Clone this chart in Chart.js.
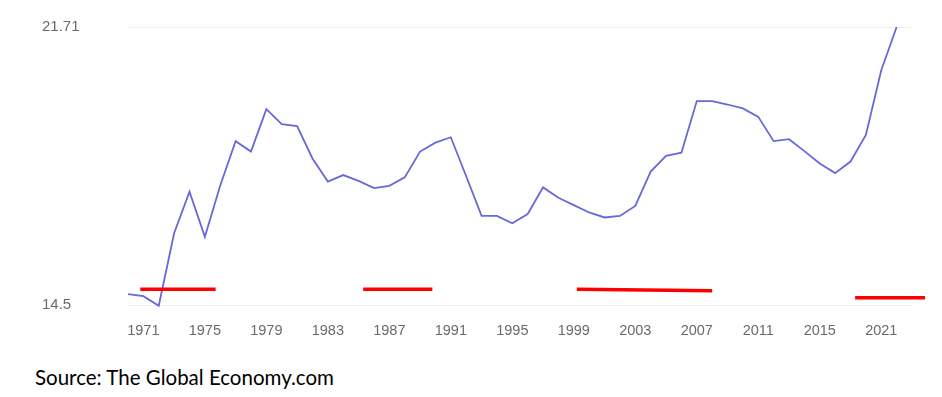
<!DOCTYPE html>
<html>
<head>
<meta charset="utf-8">
<script src="https://cdn.jsdelivr.net/npm/chart.js@4"></script>
<style>
    body { margin: 0; background: #fff; }
    #wrap { position: relative; width: 942px; height: 397px; }
    #chartBox { position: absolute; left: 0; top: 0; width: 942px; height: 345px; }
    #source {
        position: absolute; left: 35px; top: 365px;
        font-family: 'Lato', 'Open Sans', sans-serif; font-size: 20.5px; color: #000;
        line-height: 24px; white-space: nowrap;
    }
</style>
</head>
<body>
<div id="wrap">
    <div id="chartBox"><canvas id="chart"></canvas></div>
    <div id="source">Source: The Global Economy.com</div>
</div>
<script>
// 年份（横轴）
const years = [
    1970, 1971, 1972, 1973, 1974, 1975, 1976, 1977, 1978, 1979,
    1980, 1981, 1982, 1983, 1984, 1985, 1986, 1987, 1988, 1989,
    1990, 1991, 1992, 1993, 1994, 1995, 1996, 1997, 1998, 1999,
    2000, 2001, 2002, 2003, 2004, 2005, 2006, 2007, 2008, 2009,
    2010, 2011, 2012, 2013, 2014, 2015, 2016, 2017, 2018, 2019,
    2020
];

// 数值
const values = [
    14.78, 14.73, 14.48, 16.36, 17.44, 16.27, 17.60, 18.75, 18.48, 19.58,
    19.19, 19.14, 18.30, 17.70, 17.87, 17.72, 17.53, 17.59, 17.81, 18.48,
    18.71, 18.85, 17.84, 16.81, 16.81, 16.62, 16.86, 17.55, 17.28, 17.09,
    16.90, 16.77, 16.81, 17.07, 17.96, 18.37, 18.45, 19.79, 19.79, 19.70,
    19.60, 19.38, 18.75, 18.80, 18.49, 18.17, 17.92, 18.22, 18.91, 20.59,
    21.71
];

// 横轴刻度位置与文字（原图在 2019 位置标为 2021）
const tickYears = [1971, 1975, 1979, 1983, 1987, 1991, 1995, 1999, 2003, 2007, 2011, 2015, 2019];
const tickLabels = ['1971', '1975', '1979', '1983', '1987', '1991', '1995', '1999', '2003', '2007', '2011', '2015', '2021'];

// 纵轴只显示最小值和最大值
const yTicks = [14.5, 21.71];

// 红色标记线段
const markStart = [1970.8, 1985.3, 1999.2, 2017.3];
const markEnd = [1975.7, 1989.8, 2008.0, 2021.85];
const markLevelStart = [14.91, 14.91, 14.91, 14.69];
const markLevelEnd = [14.91, 14.91, 14.87, 14.69];

const lineData = years.map((y, i) => ({ x: y, y: values[i] }));

const markSets = markStart.map((s, i) => ({
    data: [
        { x: s, y: markLevelStart[i] },
        { x: markEnd[i], y: markLevelEnd[i] }
    ],
    borderColor: '#ff0000',
    borderWidth: 3.5,
    pointRadius: 0,
    borderCapStyle: 'butt',
    fill: false,
    clip: false,
    order: 0
}));

new Chart(document.getElementById('chart'), {
    type: 'line',
    data: {
        datasets: [{
            data: lineData,
            borderColor: '#6868d8',
            borderWidth: 1.8,
            pointRadius: 0,
            tension: 0,
            fill: false,
            clip: false,
            order: 1
        }].concat(markSets)
    },
    options: {
        responsive: true,
        maintainAspectRatio: false,
        animation: false,
        layout: { padding: { left: 42, top: 27, right: 30, bottom: 0 } },
        plugins: {
            legend: { display: false },
            tooltip: { enabled: false }
        },
        scales: {
            x: {
                type: 'linear',
                min: 1970,
                max: 2021,
                afterBuildTicks: scale => { scale.ticks = tickYears.map(v => ({ value: v })); },
                afterFit: scale => { scale.height = 40; },
                ticks: {
                    autoSkip: false,
                    maxRotation: 0,
                    padding: 17,
                    color: '#6a6a6a',
                    font: { family: 'Liberation Sans, Arial, sans-serif', size: 14.5 },
                    callback: value => tickLabels[tickYears.indexOf(value)]
                },
                grid: { display: false, drawTicks: false },
                border: { display: false }
            },
            y: {
                min: 14.5,
                max: 21.71,
                afterBuildTicks: scale => { scale.ticks = yTicks.map(v => ({ value: v })); },
                afterFit: scale => { scale.width = 86; },
                ticks: {
                    crossAlign: 'far',
                    color: '#6a6a6a',
                    font: { family: 'Liberation Sans, Arial, sans-serif', size: 15 },
                    callback: value => String(value)
                },
                grid: { color: '#eeeeee', drawTicks: false },
                border: { display: false }
            }
        }
    }
});
</script>
</body>
</html>
